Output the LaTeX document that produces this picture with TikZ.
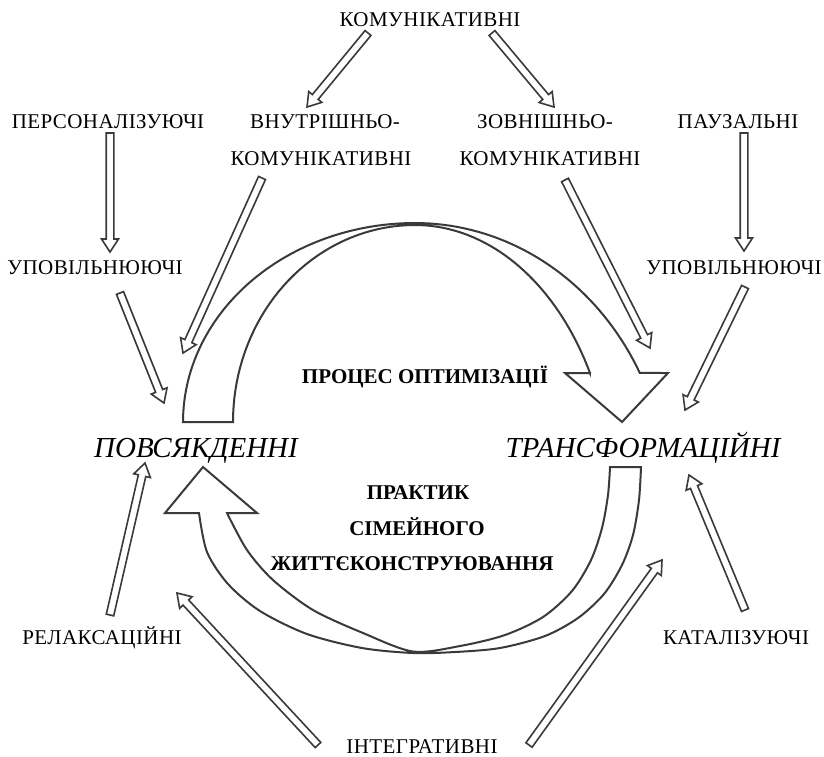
\documentclass[tikz,border=0pt]{standalone}
\usepackage{fontspec}
\setmainfont{Liberation Serif}
\newfontfamily\lblfont[LetterSpace=2]{Liberation Serif}
\usetikzlibrary{calc}
\definecolor{linec}{RGB}{58,58,58}
\begin{document}
\begin{tikzpicture}[x=1pt,y=-1pt,
  lbl/.style={font=\lblfont\fontsize{21}{25}\selectfont, anchor=base, inner sep=0pt},
  bigl/.style={font=\fontsize{29}{33}\selectfont\itshape, anchor=base, inner sep=0pt},
  ctr/.style={font=\fontsize{21}{25}\selectfont\bfseries, anchor=base, inner sep=0pt},
  bigarrow/.style={draw=linec, line width=2pt, fill=white, line join=miter},
  thinarrow/.style={draw=linec, line width=1.6pt, fill=white, line join=miter}]
\newcommand{\thinarr}[2]{%
  \coordinate (hb) at ($(#2)!13pt!(#1)$);
  \draw[thinarrow] ($(#1)!3.8pt!90:(#2)$) -- ($(hb)!3.8pt!90:(#2)$) -- ($(hb)!8.5pt!90:(#2)$) -- (#2)
    -- ($(hb)!8.5pt!-90:(#2)$) -- ($(hb)!3.8pt!-90:(#2)$) -- ($(#1)!3.8pt!-90:(#2)$) -- cycle;}
\fill[white] (0,0) rectangle (824,756);
\useasboundingbox (0,0) rectangle (824,756);

% labels
\node[lbl] (kom) at (430,26) {КОМУНІКАТИВНІ};
\node[lbl] (pers) at (108,128) {ПЕРСОНАЛІЗУЮЧІ};
\node[lbl] (vnut) at (325,128) {ВНУТРІШНЬО-};
\node[lbl] (vnutk) at (321,165) {КОМУНІКАТИВНІ};
\node[lbl] (zovn) at (545,128) {ЗОВНІШНЬО-};
\node[lbl] (zovnk) at (550,165) {КОМУНІКАТИВНІ};
\node[lbl] (pauz) at (738,128) {ПАУЗАЛЬНІ};
\node[lbl] (upl) at (95,274) {УПОВІЛЬНЮЮЧІ};
\node[lbl] (upr) at (734,274) {УПОВІЛЬНЮЮЧІ};
\node[bigl] (povs) at (196,457) {ПОВСЯКДЕННІ};
\node[bigl] (tran) at (643,457) {ТРАНСФОРМАЦІЙНІ};
\node[ctr] (proc) at (425,383) {ПРОЦЕС ОПТИМІЗАЦІЇ};
\node[ctr] (prak) at (418,499) {ПРАКТИК};
\node[ctr] (simj) at (417,535) {СІМЕЙНОГО};
\node[ctr] (zhyt) at (412,570) {ЖИТТЄКОНСТРУЮВАННЯ};
\node[lbl] (rel) at (102,644) {РЕЛАКСАЦІЙНІ};
\node[lbl] (kat) at (736,644) {КАТАЛІЗУЮЧІ};
\node[lbl] (integ) at (422,753) {ІНТЕГРАТИВНІ};

% big curved arrow (top)
\draw[bigarrow] (183,422)
  -- plot[domain=180:90, samples=40] ({415+232*cos(\x)},{422-199*sin(\x)})
  -- plot[domain=90:27.3, samples=40] ({415+253*cos(\x)},{500-277*sin(\x)})
  -- (668,373) -- (622,422) -- (565,373) -- (590,373)
  -- plot[domain=27.5:90, samples=40] ({415+197.3*cos(\x)},{500-275*sin(\x)})
  -- plot[domain=90:180, samples=40] ({415+182*cos(\x)},{422-197*sin(\x)})
  -- cycle;

% big curved arrow (bottom)
\draw[bigarrow] (641,467)
  -- plot[smooth] coordinates {(641,467) (639,500) (633,535) (622,565) (604,594) (578,618) (545,636) (500,648) (455,652) (413,653) (362,648) (307,634) (260,611) (228,584) (207,552) (199,513)}
  -- (165,513) -- (203,467) -- (257,513) -- (227,513)
  -- plot[smooth] coordinates {(227,513) (247,550) (273,580) (313,610) (363,633) (413,651.5) (460,646) (505,635) (543,617) (572,591) (591,560) (602,528) (608,495) (610,467)}
  -- cycle;

% thin arrows
\coordinate (s1) at (368,33);  \coordinate (e1) at (307,107);
\coordinate (s2) at (492,33);  \coordinate (e2) at (554,107);
\coordinate (s3) at (110,133); \coordinate (e3) at (110,252);
\coordinate (s4) at (744,133); \coordinate (e4) at (744,251);
\coordinate (s5) at (262,178); \coordinate (e5) at (183,353);
\coordinate (s6) at (120,293); \coordinate (e6) at (164,403);
\coordinate (s7) at (565,180); \coordinate (e7) at (650,348);
\coordinate (s8) at (745,287); \coordinate (e8) at (685,410);
\coordinate (s9) at (110,615); \coordinate (e9) at (145,463);
\coordinate (s10) at (318,745); \coordinate (e10) at (177,593);
\coordinate (s11) at (529,745); \coordinate (e11) at (662,560);
\coordinate (s12) at (745,610); \coordinate (e12) at (689,475);
\thinarr{s1}{e1}
\thinarr{s2}{e2}
\thinarr{s3}{e3}
\thinarr{s4}{e4}
\thinarr{s5}{e5}
\thinarr{s6}{e6}
\thinarr{s7}{e7}
\thinarr{s8}{e8}
\thinarr{s9}{e9}
\thinarr{s10}{e10}
\thinarr{s11}{e11}
\thinarr{s12}{e12}
\end{tikzpicture}
\end{document}
